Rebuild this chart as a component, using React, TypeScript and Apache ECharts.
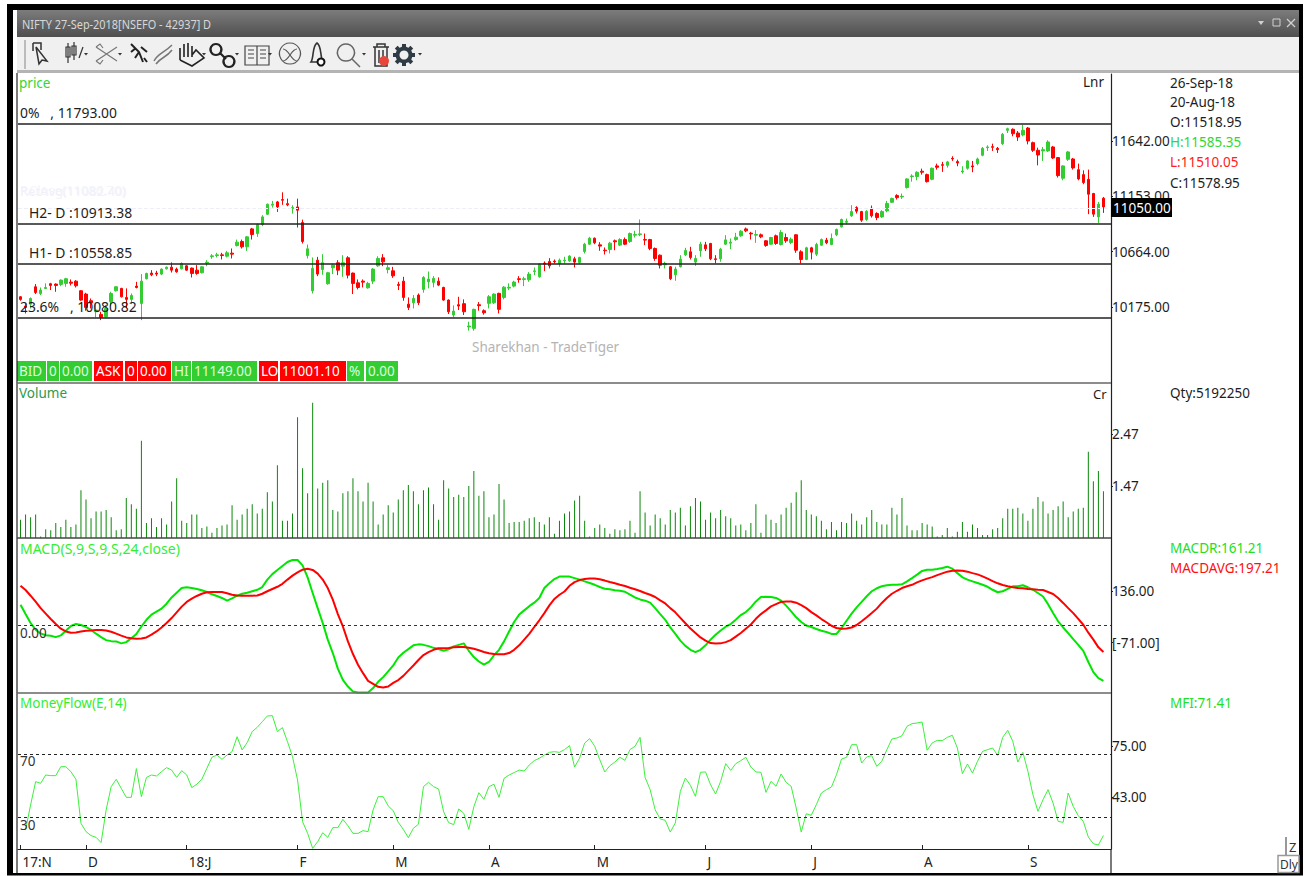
import React, { useEffect, useRef } from "react";
import * as echarts from "echarts";

const FONT = '"Noto Sans"';
const BAND_COUNT = 217;

const monthTickIndex = [0, 13, 33, 55, 74, 93, 114, 136, 157, 179, 200];
const monthTickLabel = ["17:N", "D", "18:J", "F", "M", "A", "M", "J", "J", "A", "S"];

const priceTicks = [11642, 11153, 10664, 10175];
const volumeTicks = [2.47, 1.47];
const macdTicks = [136, -71];
const mfiTicks = [75, 43];
const priceLevels = [11793, 10913.38, 10558.85, 10080.82];
const currentPrice = 11050;
const mfiBands = [70, 30];

// open, close, low, high
const ohlc = [
  [10266,10243,10231,10272],[10184,10172,10119,10207],[10201,10251,10163,10260],[10354,10304,10290,10378],[10295,10325,10281,10348],
  [10339,10348,10337,10384],[10381,10366,10325,10389],[10378,10366,10310,10384],[10375,10413,10360,10419],[10384,10425,10354,10433],
  [10395,10386,10366,10419],[10404,10363,10348,10413],[10319,10237,10231,10325],[10290,10172,10143,10301],[10231,10213,10163,10251],
  [10134,10149,10084,10207],[10110,10084,10060,10134],[10090,10163,10084,10193],[10222,10295,10184,10310],[10319,10354,10313,10360],
  [10340,10266,10260,10345],[10260,10243,10163,10340],[10243,10278,10201,10295],[10360,10348,10340,10398],[10207,10404,10060,10466],
  [10425,10472,10419,10478],[10475,10460,10448,10501],[10475,10466,10448,10495],[10466,10510,10457,10516],[10513,10527,10507,10533],
  [10527,10501,10480,10569],[10510,10486,10478,10524],[10513,10560,10507,10569],[10539,10501,10495,10545],[10519,10472,10436,10524],
  [10501,10472,10460,10545],[10478,10530,10472,10536],[10563,10571,10536,10589],[10621,10627,10601,10642],[10630,10636,10613,10654],
  [10636,10630,10595,10654],[10624,10654,10613,10671],[10651,10642,10604,10692],[10718,10748,10710,10771],[10754,10707,10692,10771],
  [10707,10795,10671,10801],[10865,10815,10771,10874],[10824,10903,10795,10912],[10903,10971,10889,10986],[10994,11083,10989,11088],
  [11074,11083,11053,11112],[11103,11059,11015,11112],[11124,11118,11077,11188],[11088,11077,11065,11132],[11044,11053,11000,11074],
  [11059,11030,10877,11132],[10921,10754,10736,10947],[10630,10689,10604,10727],[10319,10516,10295,10613],[10589,10466,10448,10618],
  [10507,10566,10460,10642],[10381,10478,10372,10486],[10522,10545,10466,10560],[10566,10501,10457,10589],[10536,10566,10442,10633],
  [10610,10457,10428,10624],[10475,10384,10290,10480],[10389,10348,10331,10419],[10404,10395,10348,10419],[10345,10384,10337,10398],
  [10404,10510,10378,10519],[10539,10604,10530,10624],[10610,10574,10536,10642],[10507,10522,10472,10545],[10495,10451,10433,10530],
  [10375,10366,10325,10398],[10404,10260,10231,10442],[10201,10172,10149,10260],[10213,10251,10163,10281],[10281,10213,10193,10295],
  [10331,10437,10302,10448],[10398,10422,10340,10489],[10393,10428,10349,10448],[10404,10369,10360,10437],[10349,10237,10231,10354],
  [10237,10134,10114,10243],[10105,10140,10084,10190],[10196,10184,10149,10266],[10205,10134,10105,10243],[10000,10008,9967,10046],
  [9987,10155,9967,10161],[10196,10187,10143,10219],[10143,10125,10108,10155],[10208,10266,10163,10281],[10213,10290,10202,10296],
  [10296,10155,10119,10302],[10260,10351,10243,10360],[10343,10349,10325,10384],[10360,10396,10349,10407],[10425,10419,10390,10448],
  [10419,10425,10360,10443],[10416,10466,10398,10484],[10489,10495,10457,10525],[10443,10554,10434,10560],[10563,10554,10492,10578],
  [10578,10539,10516,10607],[10581,10575,10560,10595],[10560,10589,10531,10604],[10583,10589,10560,10619],[10583,10625,10575,10633],
  [10601,10572,10525,10619],[10569,10613,10560,10619],[10666,10730,10648,10742],[10730,10783,10724,10795],[10783,10742,10730,10789],
  [10724,10713,10672,10748],[10677,10672,10639,10701],[10683,10739,10648,10751],[10760,10751,10677,10771],[10722,10771,10713,10783],
  [10771,10730,10722,10789],[10754,10824,10742,10833],[10810,10815,10789,10848],[10815,10821,10801,10948],[10771,10766,10722,10824],
  [10771,10692,10677,10777],[10692,10604,10583,10701],[10633,10545,10516,10639],[10548,10560,10516,10575],[10531,10425,10413,10537],
  [10460,10510,10407,10531],[10531,10598,10525,10633],[10636,10675,10625,10698],[10663,10613,10595,10707],[10572,10604,10539,10633],
  [10672,10730,10619,10751],[10724,10689,10669,10751],[10736,10601,10589,10742],[10601,10595,10560,10633],[10601,10686,10575,10698],
  [10730,10768,10722,10810],[10739,10748,10686,10780],[10771,10792,10760,10830],[10804,10845,10795,10854],[10865,10848,10836,10877],
  [10827,10821,10771,10839],[10810,10815,10742,10854],[10813,10795,10783,10824],[10760,10719,10707,10766],[10730,10789,10724,10795],
  [10804,10736,10724,10815],[10727,10833,10719,10854],[10789,10760,10742,10824],[10745,10774,10730,10789],[10813,10677,10654,10818],
  [10663,10595,10560,10677],[10595,10698,10589,10707],[10698,10660,10595,10707],[10642,10727,10625,10742],[10721,10771,10716,10780],
  [10766,10742,10730,10786],[10727,10780,10721,10824],[10813,10860,10801,10868],[10883,10948,10877,10956],[10924,10933,10907,10956],
  [10980,11018,10971,11074],[11053,11021,11001,11065],[11018,10942,10927,11024],[10948,11021,10936,11030],[11047,10980,10965,11071],
  [11001,10965,10942,11012],[10971,11018,10962,11030],[11024,11089,11012,11112],[11100,11133,11095,11141],[11159,11141,11124,11171],
  [11147,11153,11130,11177],[11230,11306,11221,11312],[11327,11332,11282,11347],[11327,11365,11294,11374],[11374,11365,11344,11397],
  [11344,11282,11274,11353],[11303,11400,11294,11406],[11421,11409,11388,11441],[11432,11426,11368,11456],[11426,11456,11406,11465],
  [11488,11482,11465,11506],[11459,11447,11418,11476],[11368,11376,11353,11418],[11400,11465,11388,11470],[11421,11412,11365,11465],
  [11441,11482,11426,11494],[11515,11576,11506,11588],[11582,11588,11553,11603],[11591,11585,11553,11617],[11576,11564,11535,11588],
  [11617,11700,11606,11711],[11735,11749,11711,11758],[11744,11705,11682,11752],[11711,11676,11641,11729],[11694,11735,11682,11782],
  [11755,11641,11611,11764],[11626,11559,11544,11635],[11559,11517,11426,11582],[11553,11564,11465,11588],[11553,11632,11544,11647],
  [11588,11491,11482,11597],[11494,11335,11318,11500],[11312,11421,11294,11426],[11479,11544,11465,11553],[11482,11403,11388,11491],
  [11388,11306,11294,11441],[11344,11274,11259,11382],[11303,11171,10995,11388],[11177,10995,10971,11183],[10971,11083,10918,11103],
  [11136,11059,11006,11147],
];

const volumeCr = [
  .82,.92,.87,.92,.50,.64,.62,.76,.68,.82,.68,.73,1.39,1.21,.85,.98,.98,1.01,.87,.62,
  .64,1.24,1.12,1.03,2.34,.76,.85,.68,.85,.73,1.17,1.62,.80,.76,.92,.92,.66,.69,.57,.66,
  .71,.73,1.10,.82,.92,1.03,1.12,.94,1.03,1.35,1.17,1.87,.80,.80,.94,2.79,1.81,1.33,3.07,1.42,
  1.53,1.58,1.01,.98,1.33,1.37,1.62,1.37,1.17,1.53,1.17,.73,.92,1.10,.96,1.21,1.39,1.49,1.37,1.12,
  1.39,1.44,1.12,.82,1.58,1.42,1.26,1.30,1.26,1.47,1.76,1.28,1.37,.87,.92,1.51,1.21,.76,.78,.78,
  .80,.85,.87,.78,.73,.87,.55,.80,.94,.98,1.19,1.28,.80,.50,.66,.73,.66,.55,.64,.62,
  .64,.80,.57,1.37,.96,.71,.92,.85,.73,1.01,.96,1.05,.71,1.08,1.24,1.17,.82,.96,.85,1.01,
  .89,.85,.71,.73,.62,.76,1.12,.57,.92,.82,.76,.92,1.05,1.15,1.35,1.58,1.01,.92,.89,.80,
  .64,.78,.62,.78,.76,.94,.80,.73,.87,1.01,.78,.73,.73,1.05,.92,1.24,.71,.62,.62,.76,
  .73,.69,.50,.53,.66,.50,.59,.78,.59,.73,.66,.53,.53,.64,.66,.85,1.03,1.03,1.05,.94,
  .80,1.03,1.26,1.17,.94,1.01,1.08,1.17,.87,.98,1.03,1.05,2.13,1.56,1.76,1.37,
];

const macdLine = [
  82,44,8,-19,-34,-41,-43,-49,-42,-23,-4,4,0,-8,-20,-35,-49,-61,-65,-66,
  -74,-69,-53,-36,-6,21,42,54,66,86,111,130,149,152,149,145,140,133,124,117,
  109,98,107,118,126,130,136,142,153,183,205,222,238,254,262,262,240,192,129,68,
  8,-59,-113,-176,-221,-248,-268,-272,-272,-272,-254,-229,-210,-187,-163,-131,-112,-97,-82,-78,
  -80,-85,-92,-97,-104,-98,-86,-80,-74,-104,-129,-147,-160,-149,-122,-100,-66,-26,12,42,
  59,76,90,109,149,168,185,195,195,195,189,183,176,169,162,153,146,144,140,138,
  134,122,111,103,98,90,68,44,21,-10,-36,-63,-84,-100,-109,-100,-82,-59,-39,-22,
  -7,4,21,40,52,71,95,113,114,113,109,98,78,55,31,12,-2,-8,-16,-23,
  -28,-36,-36,-12,17,46,71,93,116,136,148,156,160,162,162,164,176,189,203,218,
  223,223,226,230,235,227,209,192,183,176,169,162,154,142,132,136,146,156,156,160,
  152,142,129,115,84,48,15,-10,-33,-57,-80,-104,-149,-190,-214,-225,
];

const macdAvg = [
  158,141,118,94,68,46,24,4,-15,-26,-31,-30,-26,-23,-22,-20,-20,-22,-27,-35,
  -43,-50,-53,-55,-54,-50,-39,-26,-10,8,28,51,74,93,106,117,126,132,133,133,
  133,128,122,119,118,118,118,119,126,136,145,154,166,183,199,212,223,227,222,207,
  183,149,102,44,-6,-66,-117,-160,-194,-225,-237,-249,-252,-248,-233,-222,-205,-184,-163,-141,
  -121,-109,-100,-94,-94,-93,-90,-89,-89,-92,-96,-102,-109,-114,-117,-118,-118,-113,-100,-82,
  -59,-36,-8,19,48,79,105,122,135,158,173,181,185,187,187,184,179,173,168,162,
  157,150,144,137,129,122,113,99,87,68,51,29,7,-14,-32,-50,-63,-73,-75,-74,
  -69,-61,-47,-32,-15,2,25,44,59,75,84,93,95,95,90,80,68,52,39,24,
  11,-3,-12,-15,-14,-10,0,15,31,48,66,89,109,126,138,149,156,162,172,180,
  187,193,201,208,215,219,220,219,215,209,204,196,187,177,168,161,156,152,149,148,
  145,144,142,141,133,125,109,89,68,48,25,1,-31,-59,-90,-109,
];

const moneyFlow = [
  null,22.3,38.0,52.6,51.6,56.8,56.4,56.4,62.0,62.0,58.9,54.1,26.5,21.3,18.8,17.7,14.4,34.9,49.5,54.1,
  48.4,42.8,42.8,60.8,43.2,55.3,56.8,56.2,58.9,61.4,59.9,55.3,59.5,56.8,48.9,51.0,54.1,61.0,67.9,69.3,
  66.6,69.3,71.4,80.8,72.5,77.1,84.0,86.7,90.2,93.8,94.0,84.0,86.5,77.7,68.3,53.7,27.5,20.2,10.8,15.0,
  20.6,17.7,23.8,23.8,29.0,25.0,20.2,20.2,21.9,21.3,34.9,43.2,43.2,37.4,34.4,27.1,22.7,17.5,23.4,25.9,
  49.5,52.2,49.5,48.0,33.8,26.9,25.7,35.5,32.8,22.7,36.9,45.7,41.5,49.5,51.0,42.8,54.7,56.8,58.3,59.9,
  59.3,63.1,65.8,67.3,69.3,71.0,71.4,71.0,72.7,75.2,61.8,67.4,76.8,79.6,74.8,66.4,58.7,62.6,64.9,67.9,
  66.0,72.7,74.8,80.4,55.3,47.6,35.0,29.2,28.4,21.0,26.7,46.5,54.9,50.3,43.4,58.5,58.7,50.7,44.9,52.8,
  63.9,59.7,63.9,65.8,67.9,61.8,58.7,58.5,45.9,52.8,49.7,57.4,52.2,49.7,36.1,21.0,32.5,31.5,38.2,45.5,
  47.6,49.3,57.0,66.8,67.9,75.8,75.8,64.3,68.1,68.9,62.2,65.4,72.7,79.4,80.0,81.4,87.3,89.0,89.4,90.0,
  72.3,76.9,78.5,78.3,80.4,81.7,73.7,57.6,63.7,58.0,65.4,71.6,72.7,73.7,69.1,80.4,84.8,77.9,64.9,71.0,
  59.1,44.4,34.0,41.3,47.6,39.2,27.7,27.1,45.5,37.1,31.3,27.7,17.9,13.7,12.9,18.9,
];

const categories: string[] = new Array(BAND_COUNT).fill("");
monthTickIndex.forEach((idx, k) => (categories[idx] = monthTickLabel[k]));

const GREEN = "#33cc33";
const RED = "#ff0000";
const INK = "#1d1d1d";

const T = (x: number, y: number, text: string, fill = INK, size = 13.5, extra: any = {}) => ({
  type: "text", z: 50, x, y,
  ...(extra.scaleX ? { scaleX: extra.scaleX } : {}),
  style: { text, fill, font: `normal ${size}px ${FONT}`, verticalAlign: "middle", align: "left" },
});
const R = (x: number, y: number, width: number, height: number, fill: any, z = 40) => ({
  type: "rect", z, shape: { x, y, width, height }, style: { fill },
});
const L = (x1: number, y1: number, x2: number, y2: number, stroke = "#222", lineWidth = 1, z = 45) => ({
  type: "line", z, shape: { x1, y1, x2, y2 }, style: { stroke, lineWidth },
});
const Tri = (x: number, y: number) => ({
  type: "polygon", z: 45, shape: { points: [[x, y], [x + 4, y], [x + 2, y + 2.5]] }, style: { fill: "#333" },
});

const iconPaths: Record<string, string> = {
  icoCursor: "M33 43 L41 43 L41 50 M33 43 L33 51 M36 47 L47 61 L42 60 L39 64 Z",
  icoCandle: "M68 43 V63 M66 47 H70 V57 H66 Z M74 42 V60 M72 46 H76 V55 H72 Z M79 58 L83 47",
  icoTools: "M96 47 L117 61 M96 61 L117 47 M96 61 L100 64 L103 60 M96 47 L100 44 L103 48",
  icoFigure: "M131 44 L139 52 L143 62 M139 52 L135 58 M141 47 L147 52 M136 48 L131 52 M144 58 L147 62",
  icoWave: "M154 61 C158 53 163 54 172 45 M156 64 C161 57 166 58 172 50",
  icoHand: "M180 60 L180 48 M184 57 L184 44 M188 57 L188 43 M192 57 L192 46 M180 60 L192 66 L204 58 L196 50 L192 55",
  icoLink: "M216 44 A5.5 5.5 0 1 1 215.9 44 Z M229 56 A5.5 5.5 0 1 1 228.9 56 Z M220 53 L226 59",
  icoBook: "M245 46 H257 V65 H245 Z M257 46 H269 V65 H257 Z M248 50 H254 M248 54 H254 M248 58 H254 M260 50 H266 M260 54 H266 M260 58 H266",
  icoRound: "M290 43 A10.5 10.5 0 1 1 289.9 43 Z M283 49 C289 49 291 61 297 61 M283 61 C289 61 291 49 297 49",
  icoBell: "M311 62 C314 58 312 46 317 43 C322 46 320 58 323 62 Z",
  icoGlass: "M346 44 A8.5 8.5 0 1 1 345.9 44 Z M352 59 L360 67",
  icoTrash: "M373 47 H389 M377 47 V44 H385 V47 M375 47 V66 H387 V47 M379 50 V63 M383 50 V63",
  icoGear: "M404 44 V66 M393 55 H415 M396.2 47.2 L411.8 62.8 M411.8 47.2 L396.2 62.8",
};
Object.entries(iconPaths).forEach(([name, d]) =>
  echarts.graphic.registerShape(name, echarts.graphic.extendPath(d, {}))
);
const Ico = (name: string, stroke = "#333", lineWidth = 1.5, fill = "none") => ({
  type: name, z: 45, x: 0, y: 0, style: { stroke, lineWidth, fill },
});

const quoteCells: [number, number, string, string][] = [
  [17, 29, "BID", GREEN], [47, 12, "0", GREEN], [60, 32, "0.00", GREEN],
  [94, 29, "ASK", RED], [125, 12, "0", RED], [138, 33, "0.00", RED],
  [172, 19, "HI", GREEN], [192, 65, "11149.00", GREEN],
  [259, 19, "LO", RED], [280, 66, "11001.10", RED],
  [347, 17, "%", GREEN], [366, 32, "0.00", GREEN],
];

const chrome: any[] = [
  R(0, 0, 1305, 876, "#ffffff", -10),
  R(7, 4, 1296, 6, "#000"),
  R(7, 4, 6, 871, "#000"),
  R(1299, 4, 4, 871, "#000"),
  R(7, 873, 1296, 2.5, "#000"),
  R(17, 10, 1282, 27, new echarts.graphic.LinearGradient(0, 0, 0, 1, [{ offset: 0, color: "#7c7c7c" }, { offset: 1, color: "#4f4f4f" }])),
  R(17, 37, 1282, 33, "#f0f0f0"),
  R(17, 70, 1282, 3, "#b4b4b4"),
  T(22, 24, "NIFTY 27-Sep-2018[NSEFO - 42937] D", "#d8d8d8", 13, { scaleX: 0.84 }),
  { type: "polygon", z: 45, shape: { points: [[1258, 21], [1264, 21], [1261, 25]] }, style: { fill: "#d0d0d0" } },
  { type: "rect", z: 45, shape: { x: 1273, y: 19, width: 7, height: 7 }, style: { stroke: "#d0d0d0", fill: "none" } },
  L(1287, 19, 1295, 27, "#d0d0d0", 1.3),
  L(1295, 19, 1287, 27, "#d0d0d0", 1.3),
  L(25, 40, 25, 69, "#aaaaaa", 1.5),
  Ico("icoCursor"), Ico("icoCandle", "#333", 1.2), Ico("icoTools", "#777", 1.2), Ico("icoFigure", "#222", 2),
  Ico("icoWave", "#777", 1.5), Ico("icoHand", "#222", 1.6), Ico("icoLink", "#222", 2.2), Ico("icoBook", "#444", 1.2),
  Ico("icoRound", "#555", 1.2), Ico("icoBell", "#333", 1.6), Ico("icoGlass", "#666", 1.5), Ico("icoTrash", "#333", 1.5),
  { type: "circle", z: 45, shape: { cx: 321, cy: 62, r: 3.5 }, style: { fill: "#fff", stroke: "#111", lineWidth: 2 } },
  { type: "circle", z: 46, shape: { cx: 384, cy: 61, r: 5 }, style: { fill: "#e8463a" } },
  Ico("icoGear", "#2f3b45", 4),
  { type: "circle", z: 45, shape: { cx: 404, cy: 55, r: 8.5 }, style: { fill: "#2f3b45" } },
  { type: "circle", z: 46, shape: { cx: 404, cy: 55, r: 4.5 }, style: { fill: "#f0f0f0" } },
  Tri(84, 53), Tri(118, 53), Tri(202, 53), Tri(235, 53), Tri(268, 53), Tri(362, 53), Tri(418, 53),

  L(17, 73, 17, 873, "#222", 1.2),
  L(1111, 849, 1111, 873, "#222", 1.2),
  L(17, 383, 1111, 383, "#666", 1.5),
  L(17, 538, 1111, 538, "#444", 1.5),
  L(17, 693, 1111, 693, "#666", 1.5),

  T(19, 83, "price", "#33d633", 13.5),
  T(20, 112, "0%   , 11793.00", INK, 13.9),
  T(20, 190, "P.Close(11086.70)", "#f4f4fb", 13),
  T(20, 191, "RetAvg(11082.40)", "#f1f1fa", 13),
  T(29, 212, "H2- D :10913.38", INK, 13.9),
  T(29, 252, "H1- D :10558.85", INK, 13.9),
  T(20, 306, "23.6%   , 10080.82", INK, 13.9),
  T(1083, 82, "Lnr", INK, 13.5),
  T(472, 347, "Sharekhan - TradeTiger", "#b4b4b4", 13.5),
  T(19, 393, "Volume", "#2f9a4a", 13.5),
  T(1093, 394, "Cr", INK, 13),
  T(20, 548, "MACD(S,9,S,9,S,24,close)", "#33ee33", 14),
  T(20, 633, "0.00", "#333", 13.5),
  T(20, 703, "MoneyFlow(E,14)", "#33ee33", 13.5),
  T(20, 761, "70", "#333", 13.5),
  T(20, 825, "30", "#333", 13.5),

  T(1170, 83, "26-Sep-18"),
  T(1170, 102, "20-Aug-18"),
  T(1170, 122, "O:11518.95"),
  T(1170, 142, "H:11585.35", "#33d633"),
  T(1170, 162, "L:11510.05", "#ff2020"),
  T(1170, 183, "C:11578.95"),
  T(1170, 393, "Qty:5192250"),
  T(1170, 548, "MACDR:161.21", "#22e022"),
  T(1170, 568, "MACDAVG:197.21", "#ff1010"),
  T(1170, 703, "MFI:71.41", "#22e022"),

  R(1111, 198, 61, 19, "#000", 60),
  { ...T(1113, 207.5, "11050.00", "#fff", 13.5), z: 61 },

  L(1286, 837, 1286, 855, "#333", 1),
  T(1289, 847, "Z", "#333", 13),
  { type: "rect", z: 45, shape: { x: 1278, y: 855.5, width: 21, height: 17 }, style: { fill: "#fff", stroke: "#999", lineWidth: 1.5 } },
  T(1280, 864, "Dly", "#333", 12),
];
quoteCells.forEach(([x, w, text, fill]) => {
  chrome.push(R(x, 361, w, 20, fill));
  chrome.push(T(x + 2, 371, text, fill === GREEN ? "#dcffdc" : "#ffffff", 13.5));
});

const grids = [
  { left: 18, width: 1093, top: 74, height: 309 },
  { left: 18, width: 1093, top: 383, height: 155 },
  { left: 18, width: 1093, top: 538, height: 155 },
  { left: 18, width: 1093, top: 693, height: 156 },
];

const yAxis = (gridIndex: number, min: number, max: number, values: number[], formatter: (v: number) => string) => ({
  gridIndex, type: "value", position: "right", min, max, scale: true,
  splitLine: { show: false },
  axisLine: { show: true, onZero: false, lineStyle: { color: "#222", width: 1.2 } },
  axisTick: { show: true, length: 2, customValues: values, lineStyle: { color: "#222" } },
  axisLabel: { customValues: values, formatter, margin: 1, color: INK, fontFamily: FONT, fontSize: 13.5 },
});

const hiddenX = (gridIndex: number) => ({
  gridIndex, type: "category", data: categories, show: false, boundaryGap: true,
});

const levelLine = (values: number[], color: string, width: number, type: any = "solid") => ({
  silent: true, symbol: "none", animation: false, label: { show: false },
  lineStyle: { color, width, type },
  data: values.map((v) => ({ yAxis: v })),
});

const option: any = {
  animation: false,
  backgroundColor: "#ffffff",
  grid: grids,
  xAxis: [
    hiddenX(0), hiddenX(1), hiddenX(2),
    {
      gridIndex: 3, type: "category", data: categories, boundaryGap: true,
      axisLine: { show: true, lineStyle: { color: "#222", width: 1.2 } },
      axisTick: { show: true, inside: true, length: 4, alignWithLabel: true, interval: (_: number, v: string) => v !== "", lineStyle: { color: "#222" } },
      axisLabel: { interval: 0, align: "left", margin: 6, padding: [0, 0, 0, 2], color: "#222", fontFamily: FONT, fontSize: 13.5 },
    },
  ],
  yAxis: [
    yAxis(0, 9505, 12232, priceTicks, (v) => v.toFixed(2)),
    yAxis(1, 0.47, 3.45, volumeTicks, (v) => v.toFixed(2)),
    yAxis(2, -274, 350.6, macdTicks, (v) => (v < 0 ? `[${v.toFixed(2)}]` : v.toFixed(2))),
    yAxis(3, 10.4, 108.2, mfiTicks, (v) => v.toFixed(2)),
  ],
  series: [
    {
      type: "candlestick", xAxisIndex: 0, yAxisIndex: 0, data: ohlc, barWidth: 3,
      itemStyle: { color: GREEN, color0: RED, borderColor: GREEN, borderColor0: RED, borderWidth: 1 },
      markLine: levelLine(priceLevels, "#222", 1.5),
    },
    {
      type: "line", xAxisIndex: 0, yAxisIndex: 0, data: [], showSymbol: false,
      markLine: levelLine([currentPrice], "#eeeef8", 1, "dashed"),
    },
    {
      type: "bar", xAxisIndex: 1, yAxisIndex: 1, data: volumeCr, barWidth: 1,
      itemStyle: { color: "#0b880b" },
    },
    {
      type: "line", xAxisIndex: 2, yAxisIndex: 2, data: macdLine, showSymbol: false,
      lineStyle: { color: "#00e600", width: 2 },
      markLine: levelLine([0], "#333", 1.2, [3, 3]),
    },
    {
      type: "line", xAxisIndex: 2, yAxisIndex: 2, data: macdAvg, showSymbol: false,
      lineStyle: { color: "#ff0000", width: 2 },
    },
    {
      type: "line", xAxisIndex: 3, yAxisIndex: 3, data: moneyFlow, showSymbol: false,
      lineStyle: { color: "#3cf03c", width: 1 },
      markLine: levelLine(mfiBands, "#222", 1.2, [3, 3]),
    },
  ],
  graphic: { elements: chrome },
};

export default function App() {
  const ref = useRef<HTMLDivElement>(null);
  useEffect(() => {
    document.body.style.margin = "0";
    const chart = echarts.init(ref.current!, null, { renderer: "svg" });
    chart.setOption(option);
    return () => chart.dispose();
  }, []);
  return <div ref={ref} style={{ width: 1305, height: 876 }} />;
}
